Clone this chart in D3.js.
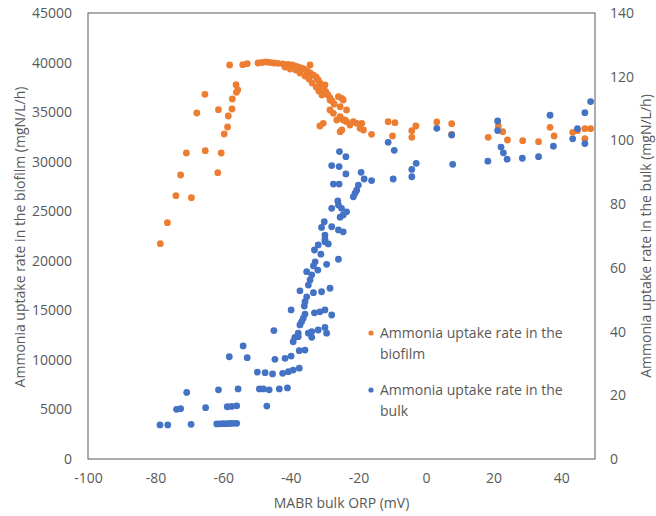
<!DOCTYPE html>
<html><head><meta charset="utf-8">
<script src="https://cdn.jsdelivr.net/npm/d3@7"></script>
<style>body{margin:0;background:#fff}text{font-family:"Open Sans",sans-serif;fill:#595959}</style>
</head><body>
<svg id="c" width="656" height="516"></svg>
<script>
const xTicks = [-100, -80, -60, -40, -20, 0, 20, 40];
const yLeftTicks = [0, 5000, 10000, 15000, 20000, 25000, 30000, 35000, 40000, 45000];
const yRightTicks = [0, 20, 40, 60, 80, 100, 120, 140];
const xTitle = "MABR bulk ORP (mV)";
const yLeftTitle = "Ammonia uptake rate in the biofilm (mgN/L/h)";
const yRightTitle = "Ammonia uptake rate in the bulk (mgN/L/h)";
const seriesNames = [["Ammonia uptake rate in the", "biofilm"], ["Ammonia uptake rate in the", "bulk"]];

// biofilm (left axis)
const biofilmORP = [-78.6,-76.5,-74.0,-69.4,-72.6,-70.9,-65.3,-60.6,-61.6,-67.8,-65.4,-61.4,-57.4,-58.5,-58.7,-59.7,-57.3,-56.2,-55.7,-56.1,-58.1,-54.2,-52.9,
 -49.7,-48.5,-47.3,-46.2,-45.0,-43.8,-42.3,-40.8,-39.6,-38.8,-37.9,-37.0,-36.1,-34.3,-35.2,-34.3,-33.4,-32.5,-31.9,-31.4,-30.8,-30.2,-29.6,-29.0,-28.4,-27.8,-27.2,
 -41.7,-40.2,-38.5,-37.3,-35.8,-34.6,-33.7,-32.5,-31.7,-30.8,
 -30.4,-31.4,-27.4,-28.4,-25.4,-24.9,-23.5,-25.4,-24.5,-23.5,-21.5,-19.0,-19.5,-25.4,-16.1,
 -28.4,-25.9,-24.5,-29.9,-24.9,-18.5,-20.5,-22.5,-24.0,-26.4,
 -11.2,-9.2,-9.9,-4.2,-3.0,-4.2,3.2,7.6,7.6,18.4,21.4,22.7,24.1,28.6,33.3,36.7,37.9,43.4,44.8,47.0,48.7,47.0];
const biofilmRate = [21724,23843,26567,26365,28656,30875,31107,30875,28888,34911,36798,35245,35315,34609,33499,32793,36322,37767,37232,37000,39755,39785,39886,
 39955,40006,40056,40006,39955,39925,39854,39804,39754,39653,39552,39451,39350,39754,39148,38946,38745,38543,38240,37938,37635,37332,37029,36727,36424,36121,35819,
 39552,39350,39249,38946,38644,38341,37938,37534,37130,36727,
 33871,33599,34880,35213,35546,36394,35213,34537,34204,34033,34033,33871,33366,33024,32762,
 36222,36556,36222,37735,33195,33195,33871,33700,34204,34204,
 34033,33932,32590,33124,33599,32459,34002,33831,32762,32459,33599,33024,32186,32116,32015,33468,32590,32963,33124,33326,33326,32318];

// bulk (right axis)
const bulkORP = [-78.7,-76.4,-73.8,-72.6,-70.8,-69.5,-65.2,-61.4,-61.9,-60.9,-60.0,-59.0,-58.0,-57.0,-56.0,-58.8,-57.5,-56.0,-55.6,-58.2,-54.1,-52.9,
 -49.9,-49.3,-48.1,-47.6,-47.1,-46.4,-45.4,-44.7,-45.0,-43.4,-42.4,-41.7,-41.0,-40.7,-39.9,-39.3,-39.3,-37.8,-37.5,-37.5,-35.8,-38.8,-37.8,-34.8,-33.8,-33.8,-31.9,-29.9,-29.4,
 -37.3,-36.8,-36.3,-35.8,-33.0,-31.4,-29.9,-27.9,-39.9,-36.0,-35.8,-35.3,-33.3,-37.3,-30.9,-28.4,-34.8,-34.3,-33.8,-35.3,-32.0,-33.3,-29.4,-32.8,-25.9,-31.1,-33.0,-31.9,-29.9,-28.9,
 -29.9,-29.9,-30.9,-30.1,-27.9,-25.9,-24.5,-25.4,-24.5,-23.5,-25.0,-27.9,-25.9,-26.1,-21.5,-21.0,-20.5,-20.0,-27.4,-25.7,-19.2,-18.3,-16.1,-23.7,-27.9,-25.7,-25.6,-23.7,
 -11.2,-9.4,-9.7,-4.2,-4.2,-2.9,3.2,7.6,7.9,18.3,21.2,21.2,22.2,22.9,24.0,28.5,33.3,36.7,37.7,43.4,44.8,47.0,47.0,48.7];
const bulkRate = [10.7,10.7,15.6,15.8,20.9,10.9,16.1,21.7,11.0,11.05,11.1,11.1,11.15,11.2,11.2,16.4,16.5,16.7,22.0,32.1,35.5,31.8,
 27.3,22.0,22.0,27.1,16.6,21.7,26.7,31.3,40.3,22.0,26.9,31.6,22.3,27.4,32.3,36.8,27.9,38.4,28.5,34.0,34.2,38.2,39.5,39.5,40.0,38.2,40.5,41.3,39.5,
 42.1,43.1,44.2,45.5,45.9,46.2,46.8,45.2,46.8,48.0,49.4,50.9,52.2,52.8,52.5,53.6,54.6,56.2,57.8,58.8,59.3,60.6,61.1,61.9,62.7,64.3,65.6,67.2,68.2,67.5,
 69.0,70.3,72.7,74.5,72.9,71.9,71.3,75.9,76.6,77.6,78.7,78.7,79.7,81.0,82.3,83.4,84.4,86.0,86.3,86.3,90.0,87.9,87.4,89.5,92.1,91.8,96.5,94.9,
 99.4,96.9,87.9,88.6,90.9,92.8,103.8,101.7,92.5,93.5,106.1,103.1,97.9,96.1,94.1,94.4,94.9,107.9,98.2,100.5,103.7,108.7,99.0,112.2];

const colors = ["#ED7D31", "#4472C4"];
const L = 88, R = 595, T = 13, B = 459;
const svg = d3.select("#c");
const x = d3.scaleLinear().domain([-100, 50]).range([L, R]);
const yL = d3.scaleLinear().domain([0, 45000]).range([B, T]);
const yR = d3.scaleLinear().domain([0, 140]).range([B, T]);

const fs = "14px";
const fmt = d => String(d);
const axL = svg.append("g").attr("transform", `translate(${L},0)`).call(d3.axisLeft(yL).tickValues(yLeftTicks).tickSize(0).tickPadding(16).tickFormat(fmt));
const axR = svg.append("g").attr("transform", `translate(${R},0)`).call(d3.axisRight(yR).tickValues(yRightTicks).tickSize(0).tickPadding(15).tickFormat(fmt));
const axB = svg.append("g").attr("transform", `translate(0,${B})`).call(d3.axisBottom(x).tickValues(xTicks).tickSize(0).tickPadding(14).tickFormat(fmt));
[axL, axR, axB].forEach(g => { g.select(".domain").remove(); g.selectAll("text").attr("font-size", fs).attr("font-family", "Open Sans").style("fill", "#595959"); });

svg.append("rect").attr("x", L).attr("y", T).attr("width", R - L).attr("height", B - T)
  .attr("fill", "none").attr("stroke", "#595959").attr("stroke-width", 1);

svg.append("g").selectAll("circle").data(d3.zip(biofilmORP, biofilmRate)).join("circle")
  .attr("cx", d => x(d[0])).attr("cy", d => yL(d[1])).attr("r", 3.4).attr("fill", colors[0]);
svg.append("g").selectAll("circle").data(d3.zip(bulkORP, bulkRate)).join("circle")
  .attr("cx", d => x(d[0])).attr("cy", d => yR(d[1])).attr("r", 3.4).attr("fill", colors[1]);

svg.append("text").attr("x", 341.5).attr("y", 508).attr("text-anchor", "middle").attr("font-size", "14px").text(xTitle);
svg.append("text").attr("transform", `translate(25,237) rotate(-90)`).attr("text-anchor", "middle").attr("font-size", "14px").text(yLeftTitle);
svg.append("text").attr("transform", `translate(651,236) rotate(-90)`).attr("text-anchor", "middle").attr("font-size", "14px").text(yRightTitle);

const legY = [333, 390];
seriesNames.forEach((lines, i) => {
  const g = svg.append("g");
  g.append("circle").attr("cx", 371).attr("cy", legY[i]).attr("r", 2.6).attr("fill", colors[i]);
  lines.forEach((ln, j) => g.append("text").attr("x", 380).attr("y", legY[i] + 5 + j * 21).attr("font-size", "14px").text(ln));
});
</script>
</body></html>
